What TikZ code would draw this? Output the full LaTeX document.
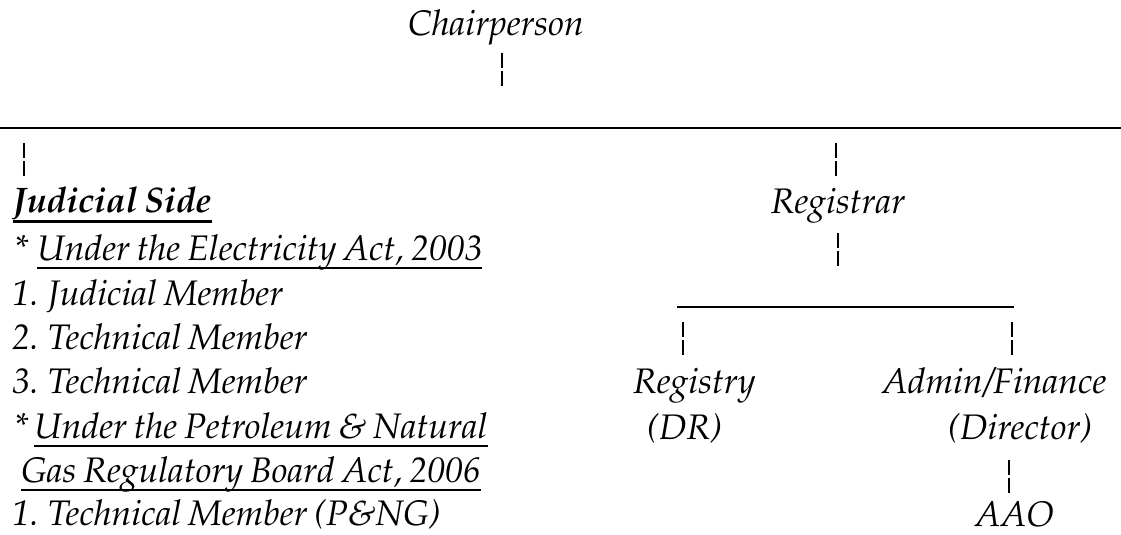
\documentclass[tikz,border=0pt]{standalone}
\usepackage[T1]{fontenc}
\usepackage{mathpazo}
\newcommand{\narrowsp}{\spaceskip=7pt\relax}
\begin{document}
\begin{tikzpicture}[x=1pt,y=1pt,
  txt/.style={inner sep=0pt, font=\fontsize{35.5}{43}\selectfont\itshape, execute at begin node=\narrowsp},
  bb/.style={line width=1.8pt, dash pattern=on 15pt off 3pt},
  ul/.style={line width=2.2pt},
  hl/.style={line width=2.7pt}]
\useasboundingbox (0,0) rectangle (1121,-535);
% top
\node[txt, anchor=base] (chair) at (496,-36) {Chairperson};
\coordinate (cb1) at (502,-53);
\coordinate (cb2) at (502,-86);
\draw[bb] (cb1) -- (cb2);
\coordinate (ml) at (0,-128);
\coordinate (mr) at (1121,-128);
\draw[hl] (ml) -- (mr);
\coordinate (lb1) at (24,-143);
\coordinate (lb2) at (24,-176);
\draw[bb] (lb1) -- (lb2);
\coordinate (rb1) at (836,-143);
\coordinate (rb2) at (836,-176);
\draw[bb] (rb1) -- (rb2);
% left column
\node[txt, anchor=base west, font=\fontsize{35.5}{43}\selectfont\itshape\bfseries] (jud) at (13,-212) {Judicial Side};
\draw[line width=2.7pt] ([yshift=-9.5pt]jud.base west) -- ([yshift=-9.5pt]jud.base east);
\node[txt, anchor=base west] (s1) at (14,-260) {*};
\node[txt, anchor=base west] (ea) at (37,-260) {Under the Electricity Act, 2003};
\draw[ul] ([yshift=-8pt]ea.base west) -- ([yshift=-8pt]ea.base east);
\node[txt, anchor=base west] (m1) at (12,-305) {1. Judicial Member};
\node[txt, anchor=base west] (m2) at (12,-349) {2. Technical Member};
\node[txt, anchor=base west] (m3) at (12,-393) {3. Technical Member};
\node[txt, anchor=base west] (s2) at (14,-438) {*};
\node[txt, anchor=base west] (pa) at (34,-438) {Under the Petroleum \& Natural};
\draw[ul] ([yshift=-8pt]pa.base west) -- ([yshift=-8pt]pa.base east);
\node[txt, anchor=base west] (ga) at (21,-482) {Gas Regulatory Board Act, 2006};
\draw[ul] ([yshift=-8pt]ga.base west) -- ([yshift=-8pt]ga.base east);
\node[txt, anchor=base west] (m4) at (12,-525) {1. Technical Member (P\&NG)};
% right column
\node[txt, anchor=base] (reg) at (838,-213) {Registrar};
\coordinate (gb1) at (838,-233);
\coordinate (gb2) at (838,-266);
\draw[bb] (gb1) -- (gb2);
\coordinate (sl) at (677,-307);
\coordinate (sr) at (1014,-307);
\draw[line width=1.5pt] (sl) -- (sr);
\coordinate (ab1) at (683,-322);
\coordinate (ab2) at (683,-355);
\draw[bb] (ab1) -- (ab2);
\coordinate (bb1) at (1012,-322);
\coordinate (bb2) at (1012,-355);
\draw[bb] (bb1) -- (bb2);
\node[txt, anchor=base west] (rgy) at (633,-393) {Registry};
\node[txt, anchor=base west] (dr) at (647,-439) {(DR)};
\node[txt, anchor=base west] (adm) at (882,-393) {Admin/Finance};
\node[txt, anchor=base west] (dir) at (948,-439) {(Director)};
\coordinate (cb3) at (1009,-460);
\coordinate (cb4) at (1009,-493);
\draw[bb] (cb3) -- (cb4);
\node[txt, anchor=base west] (aao) at (975,-526) {AAO};
\end{tikzpicture}
\end{document}
